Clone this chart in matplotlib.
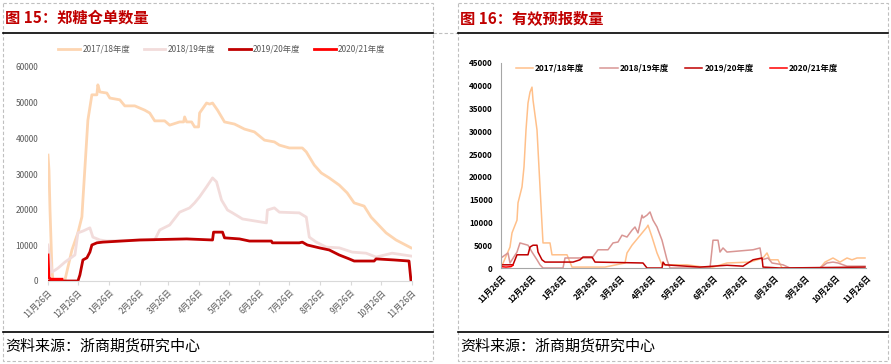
import numpy as np
import matplotlib
matplotlib.use("Agg")
import matplotlib.pyplot as plt
from matplotlib.patches import Rectangle

plt.rcParams['font.family'] = ['Noto Sans CJK SC', 'DejaVu Sans']

# 横轴刻度（距 11月26日 的天数）
tick_days = [0, 30, 61, 92, 120, 151, 181, 212, 242, 273, 304, 334, 365]
tick_labels = ['11月26日', '12月26日', '1月26日', '2月26日', '3月26日', '4月26日', '5月26日',
               '6月26日', '7月26日', '8月26日', '9月26日', '10月26日', '11月26日']
season_names = ['2017/18年度', '2018/19年度', '2019/20年度', '2020/21年度']

# ---------- 图15 郑糖仓单数量 ----------
wr_1718_d = [0, 1, 2, 4, 5, 17, 24, 30, 34, 35, 40, 44, 49, 50, 52, 59, 62, 72, 77, 87, 97, 102, 107,
             117, 122, 132, 136, 137, 139, 144, 147, 151, 152, 159, 162, 165, 170, 177, 187, 197, 207,
             217, 227, 232, 242, 255, 259, 267, 274, 282, 292, 300, 307, 317, 324, 339, 349, 364]
wr_1718_v = [35300, 31000, 20000, 3000, 0, 300, 8700, 13500, 18000, 22700, 45100, 52200, 52200, 55000,
             53000, 52700, 51300, 50800, 49100, 49100, 47900, 47100, 44900, 44900, 43700, 44600, 44600,
             46000, 44600, 44600, 43200, 43200, 47100, 49900, 49600, 49900, 47900, 44600, 44000, 42600,
             41800, 39500, 39000, 38100, 37300, 37300, 36200, 32500, 30300, 28900, 26900, 24700, 21900,
             21000, 17900, 13500, 11500, 9300]
wr_1819_d = [0, 4, 10, 17, 27, 30, 35, 42, 45, 52, 59, 92, 107, 112, 122, 132, 142, 147, 152, 159, 165,
             169, 174, 180, 185, 195, 219, 220, 227, 232, 252, 259, 262, 269, 279, 292, 305, 319, 329,
             345, 364]
wr_1819_v = [10100, 2500, 3600, 5300, 7300, 13500, 14000, 14900, 12300, 11500, 11200, 11500, 11500,
             14300, 15700, 19300, 20500, 21900, 23600, 26400, 28900, 27800, 22700, 19900, 19100, 17400,
             16300, 19900, 20500, 19300, 19100, 17900, 12300, 10900, 9500, 9300, 8100, 7800, 6700, 7800,
             7000]
wr_1920_d = [0, 30, 32, 35, 39, 42, 44, 49, 55, 92, 139, 165, 166, 175, 177, 192, 202, 224, 225, 252,
             255, 260, 272, 282, 292, 302, 307, 327, 329, 347, 362, 364]
wr_1920_v = [0, 0, 1700, 5900, 6500, 8100, 10100, 10700, 10900, 11500, 11800, 11500, 13700, 13700,
             12100, 11800, 11200, 11200, 10700, 10700, 10900, 10100, 9300, 8700, 7300, 6200, 5600, 5600,
             6200, 5900, 5600, 0]
wr_2021_d = [0, 1, 3, 14]
wr_2021_v = [7300, 900, 500, 500]

# ---------- 图16 有效预报数量 ----------
fc_1718_d = [0, 9, 11, 16, 17, 21, 23, 25, 27, 29, 31, 32, 36, 39, 42, 49, 51, 66, 71, 104, 124, 126,
             131, 137, 146, 147, 151, 156, 161, 186, 209, 226, 249, 262, 266, 269, 277, 281, 319, 324,
             332, 339, 346, 351, 356, 364]
fc_1718_v = [0, 4600, 7700, 10500, 14300, 17800, 22200, 30300, 36200, 38600, 39700, 36900, 30300, 17800,
             5500, 5500, 2900, 2900, 200, 200, 1100, 3300, 5000, 6600, 9000, 9400, 6800, 3300, 700, 700,
             0, 1100, 1300, 2200, 3300, 1800, 1800, 0, 0, 1300, 2200, 1300, 2200, 1800, 2200, 2200]
fc_1819_d = [0, 7, 9, 16, 19, 27, 31, 36, 39, 42, 62, 64, 91, 97, 107, 112, 117, 121, 126, 131, 134,
             137, 141, 142, 146, 149, 152, 156, 161, 166, 169, 209, 212, 217, 219, 222, 226, 252, 259,
             261, 267, 271, 282, 289, 319, 326, 332, 337, 346, 364]
fc_1819_v = [2200, 3300, 1100, 3500, 5500, 5000, 3500, 1800, 700, 0, 0, 2200, 2200, 4000, 4000, 5500,
             5700, 7200, 6800, 8300, 9000, 7700, 11600, 11000, 11600, 12300, 10500, 9000, 6100, 1800, 0,
             0, 6100, 6100, 3500, 4400, 3500, 4000, 4400, 1800, 2200, 1100, 700, 0, 0, 1100, 1300, 1100,
             400, 400]
fc_1920_d = [0, 12, 16, 27, 29, 32, 36, 37, 41, 44, 72, 79, 82, 91, 94, 142, 146, 161, 162, 164, 199,
             226, 242, 252, 261, 262, 279, 364]
fc_1920_v = [700, 700, 2900, 2900, 4600, 5000, 5000, 3500, 1800, 1300, 1300, 1800, 2400, 2400, 1300,
             1100, 0, 0, 1300, 700, 200, 600, 400, 1800, 2200, 200, 0, 200]
fc_2021_d = [0, 5, 10, 12]
fc_2021_v = [300, 200, 300, 600]

W, H = 891, 364
fig = plt.figure(figsize=(W / 100, H / 100), dpi=100)


def px_axes(x0, y0, x1, y1):
    # 像素坐标 -> figure 比例
    return fig.add_axes([x0 / W, 1 - y1 / H, (x1 - x0) / W, (y1 - y0) / H])


# 背景装饰层
bg = fig.add_axes([0, 0, 1, 1])
bg.set_xlim(0, W)
bg.set_ylim(H, 0)
bg.axis('off')
dash = dict(edgecolor='#BFBFBF', facecolor='none', lw=0.8, ls=(0, (3, 2)))
bg.add_patch(Rectangle((3, 3), 430, 358, **dash))
bg.add_patch(Rectangle((458, 3), 430, 358, **dash))
bg.plot([433, 458], [33, 33], color='#BFBFBF', lw=0.8, ls=(0, (3, 2)))
for xa, xb in [(3, 433), (458, 888)]:
    bg.plot([xa, xb], [33, 33], color='black', lw=1.2)
    bg.plot([xa, xb], [332, 332], color='black', lw=1.2)
bg.text(5, 18, '图 15：郑糖仓单数量', color='#C00000', fontsize=11, fontweight='bold', va='center')
bg.text(460, 18, '图 16：有效预报数量', color='#C00000', fontsize=11, fontweight='bold', va='center')
bg.text(5, 346, '资料来源：浙商期货研究中心', color='black', fontsize=10.8, va='center')
bg.text(460, 346, '资料来源：浙商期货研究中心', color='black', fontsize=10.8, va='center')

# ---- 左图 ----
ax1 = px_axes(48, 67, 412, 281)
c1 = ['#FDD5B1', '#F2DCDB', '#C00000', '#FF0000']
ax1.plot(wr_1718_d, wr_1718_v, color=c1[0], lw=2.0, label=season_names[0])
ax1.plot(wr_1819_d, wr_1819_v, color=c1[1], lw=2.0, label=season_names[1])
ax1.plot(wr_1920_d, wr_1920_v, color=c1[2], lw=2.0, label=season_names[2])
ax1.plot(wr_2021_d, wr_2021_v, color=c1[3], lw=2.0, label=season_names[3])
ax1.set_xlim(0, 365)
ax1.set_ylim(0, 60000)
ax1.set_yticks(range(0, 60001, 10000))
ax1.set_xticks(tick_days)
ax1.set_xticklabels(tick_labels, rotation=45, ha='right', rotation_mode='anchor')
ax1.tick_params(axis='y', length=0, labelsize=6, labelcolor='#595959', pad=7)
ax1.tick_params(axis='x', length=3, color='#D9D9D9', labelsize=6, labelcolor='#595959', pad=2)
for s in ['top', 'right', 'left']:
    ax1.spines[s].set_visible(False)
ax1.spines['bottom'].set_color('#D9D9D9')
leg1 = ax1.legend(ncol=4, loc='center', bbox_to_anchor=(222 / W, 1 - 49 / H),
                  bbox_transform=fig.transFigure, frameon=False, fontsize=6,
                  handlelength=2.6, columnspacing=1.6, handletextpad=0.3)
for t in leg1.get_texts():
    t.set_color('#595959')

# ---- 右图 ----
ax2 = px_axes(501, 63, 866, 268)
c2 = ['#FFC08A', '#D99694', '#C00000', '#FF0000']
ax2.plot(fc_1718_d, fc_1718_v, color=c2[0], lw=1.1, label=season_names[0])
ax2.plot(fc_1819_d, fc_1819_v, color=c2[1], lw=1.1, label=season_names[1])
ax2.plot(fc_1920_d, fc_1920_v, color=c2[2], lw=1.1, label=season_names[2])
ax2.plot(fc_2021_d, fc_2021_v, color=c2[3], lw=1.1, label=season_names[3])
ax2.set_xlim(0, 365)
ax2.set_ylim(0, 45000)
ax2.set_yticks(range(0, 45001, 5000))
ax2.set_xticks(tick_days)
ax2.set_xticklabels(tick_labels, rotation=45, ha='right', rotation_mode='anchor')
ax2.tick_params(axis='y', length=0, labelsize=5.8, pad=6)
ax2.tick_params(axis='x', length=0, labelsize=5.8, pad=4)
for lab in ax2.get_xticklabels() + ax2.get_yticklabels():
    lab.set_fontweight('bold')
for s in ['top', 'right']:
    ax2.spines[s].set_visible(False)
ax2.spines['left'].set_color('#A6A6A6')
ax2.spines['bottom'].set_color('#A6A6A6')
leg2 = ax2.legend(ncol=4, loc='center', bbox_to_anchor=(677 / W, 1 - 68 / H),
                  bbox_transform=fig.transFigure, frameon=False, fontsize=6,
                  handlelength=2.1, columnspacing=1.9, handletextpad=0.25)
for t in leg2.get_texts():
    t.set_fontweight('bold')

fig.savefig('out.png', dpi=100)
